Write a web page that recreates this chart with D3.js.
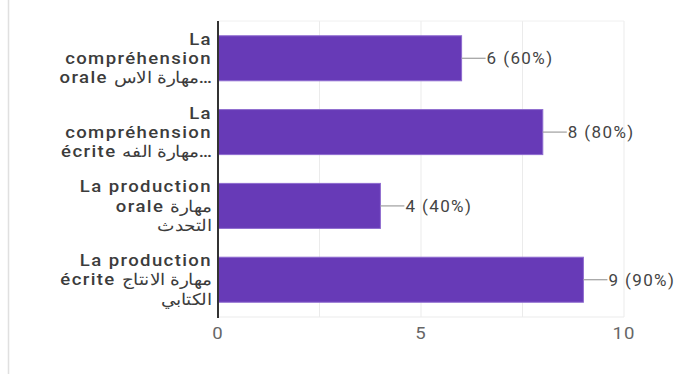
<!DOCTYPE html>
<html>
<head>
<meta charset="utf-8">
<script src="https://cdn.jsdelivr.net/npm/d3@7"></script>
<style>
  body { margin: 0; background: #fff; }
  svg { display: block; font-family: Roboto, "Noto Sans", sans-serif; }
</style>
</head>
<body>
<div id="chart-area"></div>
<script>
var width = 676;
var height = 374;

// data
var categories = ["comp_orale", "comp_ecrite", "prod_orale", "prod_ecrite"];
var labelLines = [
    ["La", "compréhension", "orale مهارة الاس…"],
    ["La", "compréhension", "écrite مهارة الفه…"],
    ["La production", "orale مهارة", "التحدث"],
    ["La production", "écrite مهارة الانتاج", "الكتابي"]
];
var counts = [6, 8, 4, 9];
var percents = ["60%", "80%", "40%", "90%"];
var xTicks = [0, 5, 10];
var xGrid = [0, 2.5, 5, 7.5, 10];

var margin = {top: 21, right: 52, bottom: 57, left: 218};
var stretch = 1.16; // the reference looks a bit wide

var svg = d3.select("#chart-area").append("svg")
    .attr("width", width)
    .attr("height", height);

// frame on the left edge
svg.append("line")
    .attr("x1", 8.5).attr("x2", 8.5)
    .attr("y1", 0).attr("y2", height)
    .attr("stroke", "#e0e0e0")
    .attr("stroke-width", 1.5);

var x = d3.scaleLinear()
    .domain([0, 10])
    .range([margin.left, width - margin.right]);

var y = d3.scaleBand()
    .domain(categories)
    .range([margin.top, height - margin.bottom])
    .paddingInner(0.39)
    .paddingOuter(0.2);

// grid
svg.selectAll(".grid")
    .data(xGrid)
    .enter()
    .append("line")
    .attr("class", "grid")
    .attr("x1", function(d) { return x(d); })
    .attr("x2", function(d) { return x(d); })
    .attr("y1", margin.top)
    .attr("y2", height - margin.bottom)
    .attr("stroke", "#ebebeb")
    .attr("stroke-width", 1);

svg.append("line")
    .attr("x1", x(0)).attr("x2", x(10))
    .attr("y1", margin.top).attr("y2", margin.top)
    .attr("stroke", "#f0f0f0");
svg.append("line")
    .attr("x1", x(0)).attr("x2", x(10))
    .attr("y1", height - margin.bottom).attr("y2", height - margin.bottom)
    .attr("stroke", "#ebebeb");

// bars
svg.selectAll(".bar")
    .data(counts)
    .enter()
    .append("rect")
    .attr("class", "bar")
    .attr("x", x(0))
    .attr("y", function(d, i) { return y(categories[i]); })
    .attr("width", function(d) { return x(d) - x(0); })
    .attr("height", y.bandwidth())
    .attr("fill", "#673ab7")
    .attr("stroke", "#8e6bcf")
    .attr("stroke-width", 1);

// value labels with leader lines
svg.selectAll(".leader")
    .data(counts)
    .enter()
    .append("line")
    .attr("class", "leader")
    .attr("x1", function(d) { return x(d); })
    .attr("x2", function(d) { return x(d) + 24; })
    .attr("y1", function(d, i) { return y(categories[i]) + y.bandwidth() / 2; })
    .attr("y2", function(d, i) { return y(categories[i]) + y.bandwidth() / 2; })
    .attr("stroke", "#9e9e9e")
    .attr("stroke-width", 1.2);

svg.selectAll(".value")
    .data(counts)
    .enter()
    .append("text")
    .attr("class", "value")
    .attr("x", function(d) { return x(d) + 25; })
    .attr("y", function(d, i) { return y(categories[i]) + y.bandwidth() / 2; })
    .attr("dy", "0.35em")
    .attr("fill", "#444")
    .style("font-size", "17px")
    .style("letter-spacing", "1.4px")
    .text(function(d, i) { return d + " (" + percents[i] + ")"; });

// category labels, one text per line
var lineH = 19.2;
labelLines.forEach(function(lines, i) {
    var cy = y(categories[i]) + y.bandwidth() / 2;
    svg.selectAll(".cat-" + i)
        .data(lines)
        .enter()
        .append("text")
        .attr("class", "cat cat-" + i)
        .attr("transform", function(l, j) {
            var ly = cy + (j - (lines.length - 1) / 2) * lineH;
            return "translate(" + (margin.left - 6) + "," + ly + ") scale(" + stretch + ",1)";
        })
        .attr("dy", "0.35em")
        .attr("text-anchor", "end")
        .attr("fill", "#3c3c3c")
        .style("font-size", "16px")
        .style("font-weight", "500")
        .style("letter-spacing", "1.2px")
        .text(function(l) { return l; });
});

// x axis labels
svg.selectAll(".tick-label")
    .data(xTicks)
    .enter()
    .append("text")
    .attr("class", "tick-label")
    .attr("transform", function(d) { return "translate(" + x(d) + ",333) scale(" + stretch + ",1)"; })
    .attr("dy", "0.35em")
    .attr("text-anchor", "middle")
    .attr("fill", "#666")
    .style("font-size", "16px")
    .style("letter-spacing", "1px")
    .text(function(d) { return d; });

// y axis line
svg.append("line")
    .attr("x1", x(0)).attr("x2", x(0))
    .attr("y1", margin.top).attr("y2", height - margin.bottom + 1)
    .attr("stroke", "#333")
    .attr("stroke-width", 2);
</script>
</body>
</html>
